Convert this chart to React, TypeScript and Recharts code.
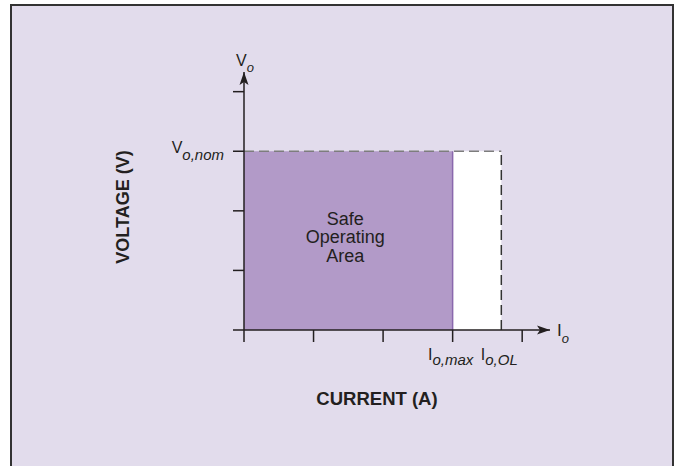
import React from "react";
import {
  Area,
  ComposedChart,
  ReferenceArea,
  ReferenceDot,
  ReferenceLine,
  XAxis,
  YAxis
} from "recharts";

// safe operating area outline (normalised units)
const soaCurrent = [0, 3];
const soaVoltage = [3, 3];

const ioMax = 3;
const ioOverload = 3.7;
const voNom = 3;
const currentMax = 4.4;
const voltageMax = 4.33;

const currentTicks = [0, 1, 2, 3, 3.7, 4];
const voltageTicks = [0, 1, 2, 3, 4];
const currentTickLabels: Record<string, string> = { "3": "o,max", "3.7": "o,OL" };
const voltageTickLabels: Record<string, string> = { "3": "o,nom" };

const soaLines = ["Safe", "Operating", "Area"];

const rows = soaCurrent.map((current, i) => ({ current, voltage: soaVoltage[i] }));

const FONT = "'Liberation Sans', Arial, Helvetica, sans-serif";
const INK = "#231f20";
const PURPLE = "#b29ac8";

function CurrentTick({ x, y, payload }: any) {
  const v = payload.value;
  const label = currentTickLabels[String(v)];
  return (
    <g>
      {Number.isInteger(v) && <line x1={x} y1={y} x2={x} y2={y + 12} stroke={INK} strokeWidth={1.5} />}
      {label && (
        <text x={x - 2} y={y + 30} textAnchor="middle" fill={INK} fontFamily={FONT} fontSize={16}>
          <tspan>I</tspan>
          <tspan dy={5} fontStyle="italic" fontSize={15}>{label}</tspan>
        </text>
      )}
    </g>
  );
}

function VoltageTick({ x, y, payload }: any) {
  const label = voltageTickLabels[String(payload.value)];
  return (
    <g>
      <line x1={x - 11} y1={y} x2={x} y2={y} stroke={INK} strokeWidth={1.5} />
      {label && (
        <text x={x - 20} y={y + 2} textAnchor="end" fill={INK} fontFamily={FONT} fontSize={16}>
          <tspan>V</tspan>
          <tspan dy={7} fontStyle="italic" fontSize={15}>{label}</tspan>
        </text>
      )}
    </g>
  );
}

function RightArrow({ cx, cy }: any) {
  return (
    <g>
      <path d={`M${cx},${cy} L${cx - 13},${cy - 4.5} L${cx - 10},${cy} L${cx - 13},${cy + 4.5} Z`} fill={INK} />
      <text x={cx + 7} y={cy + 6} fill={INK} fontFamily={FONT} fontSize={17}>
        <tspan>I</tspan>
        <tspan dy={7} fontStyle="italic" fontSize={13}>o</tspan>
      </text>
    </g>
  );
}

function UpArrow({ cx, cy }: any) {
  return (
    <g>
      <path d={`M${cx},${cy} L${cx - 4.5},${cy + 13} L${cx},${cy + 10} L${cx + 4.5},${cy + 13} Z`} fill={INK} />
      <text x={cx - 8} y={cy - 6} fill={INK} fontFamily={FONT} fontSize={16}>
        <tspan>V</tspan>
        <tspan dy={6} fontStyle="italic" fontSize={13}>o</tspan>
      </text>
    </g>
  );
}

function SoaLabel({ cx, cy }: any) {
  return (
    <text x={cx - 3} y={cy - 16} textAnchor="middle" fill={INK} fontFamily={FONT} fontSize={18}>
      {soaLines.map((line, i) => (
        <tspan key={line} x={cx - 3} dy={i === 0 ? 0 : 18.5}>
          {line}
        </tspan>
      ))}
    </text>
  );
}

function VoltageTitle({ viewBox }: any) {
  const x = viewBox.x - 55;
  const y = viewBox.y + viewBox.height / 2 + 6;
  return (
    <text x={x} y={y} transform={`rotate(-90, ${x}, ${y})`} textAnchor="middle" fill={INK}
      fontFamily={FONT} fontSize={18} fontWeight="bold">
      VOLTAGE (V)
    </text>
  );
}

function CurrentTitle({ viewBox }: any) {
  return (
    <text x={viewBox.x + 133} y={viewBox.y + 75} textAnchor="middle" fill={INK}
      fontFamily={FONT} fontSize={18.5} fontWeight="bold">
      CURRENT (A)
    </text>
  );
}

export default function App() {
  return (
    <div style={{ position: "fixed", left: 0, top: 0, width: 676, height: 466, background: "#fff", overflow: "hidden" }}>
      <div
        style={{
          position: "absolute",
          left: 10,
          top: 4,
          width: 660,
          height: 480,
          border: "2px solid #333",
          background: "#e2dcec"
        }}
      />
      <div style={{ position: "absolute", left: 0, top: 0 }}>
        <ComposedChart width={676} height={466} data={rows} margin={{ top: 72, right: 126, bottom: 96, left: 184 }}>
          <XAxis
            type="number"
            dataKey="current"
            domain={[0, currentMax]}
            allowDataOverflow
            ticks={currentTicks}
            interval={0}
            tickSize={0}
            tickMargin={0}
            tickLine={false}
            tick={<CurrentTick />}
            height={40}
            axisLine={{ stroke: INK, strokeWidth: 1.5 }}
            label={{ content: <CurrentTitle /> }}
          />
          <YAxis
            type="number"
            dataKey="voltage"
            domain={[0, voltageMax]}
            allowDataOverflow
            ticks={voltageTicks}
            interval={0}
            tickSize={0}
            tickMargin={0}
            tickLine={false}
            tick={<VoltageTick />}
            width={60}
            axisLine={{ stroke: INK, strokeWidth: 1.5 }}
            label={{ content: <VoltageTitle /> }}
          />
          <Area
            type="linear"
            dataKey="voltage"
            fill={PURPLE}
            fillOpacity={1}
            stroke="none"
            isAnimationActive={false}
          />
          <ReferenceArea x1={ioMax} x2={ioOverload} y1={0} y2={voNom} fill="#ffffff" fillOpacity={1} stroke="none" />
          <ReferenceLine
            segment={[{ x: ioMax, y: 0 }, { x: ioMax, y: voNom }]}
            stroke="#8a68ad"
            strokeWidth={1.5}
          />
          <ReferenceLine
            segment={[{ x: 0, y: voNom }, { x: ioOverload, y: voNom }]}
            stroke="#7d7d7d"
            strokeWidth={1.5}
            strokeDasharray="10 5"
          />
          <ReferenceLine
            segment={[{ x: ioOverload, y: 0 }, { x: ioOverload, y: voNom }]}
            stroke="#333"
            strokeWidth={1.5}
            strokeDasharray="10 5"
          />
          <ReferenceDot x={ioMax / 2} y={voNom / 2} r={0} ifOverflow="visible" shape={<SoaLabel />} />
          <ReferenceDot x={currentMax} y={0} ifOverflow="visible" shape={<RightArrow />} />
          <ReferenceDot x={0} y={voltageMax} ifOverflow="visible" shape={<UpArrow />} />
        </ComposedChart>
      </div>
    </div>
  );
}
